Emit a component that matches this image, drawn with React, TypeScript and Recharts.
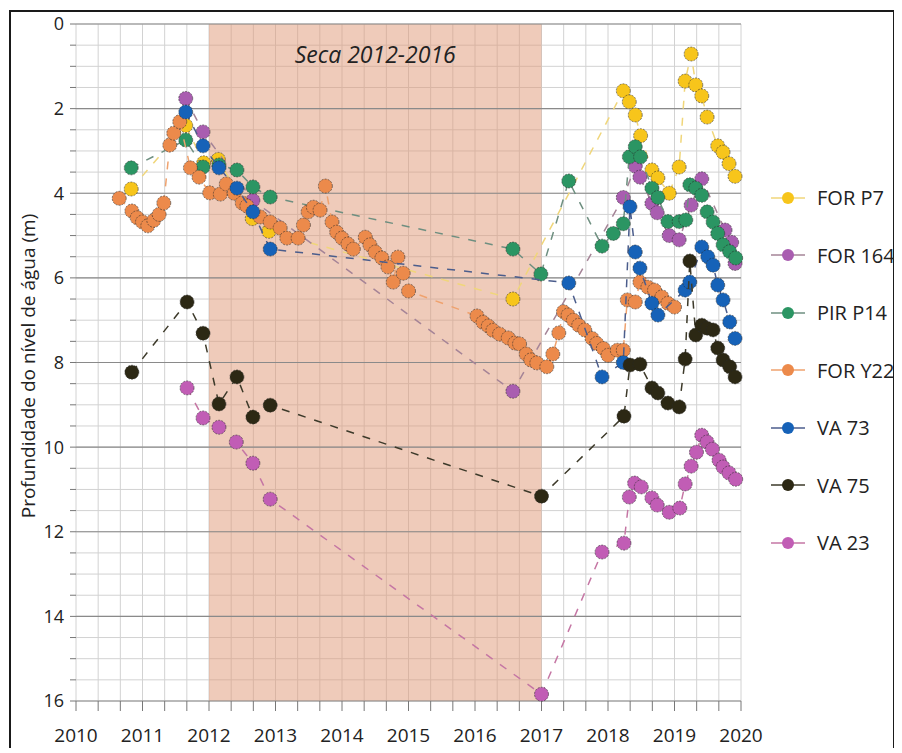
import {
  ScatterChart,
  Scatter,
  XAxis,
  YAxis,
  CartesianGrid,
  ReferenceArea,
  ReferenceLine,
} from "recharts";

// [ano, profundidade (m)]
const forP7 = [
  [2010.83, 3.9], [2011.65, 2.4], [2011.92, 3.28], [2012.14, 3.2], [2012.65, 4.6],
  [2012.9, 4.9], [2016.57, 6.5], [2018.23, 1.58], [2018.32, 1.84], [2018.41, 2.15],
  [2018.49, 2.64], [2018.66, 3.45], [2018.75, 3.64], [2018.92, 4.0], [2019.07, 3.38],
  [2019.16, 1.35], [2019.25, 0.71], [2019.32, 1.44], [2019.41, 1.7], [2019.49, 2.2],
  [2019.65, 2.88], [2019.73, 3.03], [2019.82, 3.3], [2019.91, 3.6],
];

const for164 = [
  [2011.65, 1.76], [2011.91, 2.55], [2012.66, 4.17], [2016.57, 8.68], [2018.23, 4.1],
  [2018.41, 3.36], [2018.48, 3.62], [2018.66, 4.24], [2018.74, 4.46], [2018.92, 5.0],
  [2019.07, 5.1], [2019.25, 4.28], [2019.41, 3.66], [2019.76, 4.87], [2019.86, 5.16],
  [2019.91, 5.66],
];

const pirP14 = [
  [2010.83, 3.4], [2011.65, 2.74], [2011.91, 3.38], [2012.15, 3.33], [2012.42, 3.45],
  [2012.66, 3.85], [2012.92, 4.09], [2016.57, 5.32], [2016.99, 5.91], [2017.41, 3.71],
  [2017.91, 5.25], [2018.08, 4.95], [2018.23, 4.72], [2018.32, 3.14], [2018.41, 2.9],
  [2018.49, 3.14], [2018.66, 3.88], [2018.75, 4.1], [2018.9, 4.67], [2019.07, 4.67],
  [2019.17, 4.63], [2019.23, 3.8], [2019.32, 3.88], [2019.41, 4.05], [2019.49, 4.44],
  [2019.58, 4.68], [2019.65, 4.95], [2019.73, 5.22], [2019.83, 5.38], [2019.92, 5.53],
];

const forY22 = [
  [2010.65, 4.12], [2010.84, 4.42], [2010.92, 4.58], [2011.0, 4.68], [2011.08, 4.77],
  [2011.17, 4.64], [2011.25, 4.5], [2011.32, 4.23], [2011.41, 2.86], [2011.47, 2.58],
  [2011.56, 2.31], [2011.72, 3.4], [2011.85, 3.62], [2012.01, 3.99], [2012.17, 4.02],
  [2012.26, 3.78], [2012.38, 4.0], [2012.5, 4.23], [2012.57, 4.3], [2012.77, 4.56],
  [2012.92, 4.68], [2013.07, 4.82], [2013.17, 5.06], [2013.34, 5.06], [2013.42, 4.75],
  [2013.49, 4.44], [2013.57, 4.33], [2013.67, 4.4], [2013.75, 3.83], [2013.85, 4.68],
  [2013.92, 4.92], [2014.0, 5.06], [2014.09, 5.2], [2014.17, 5.32], [2014.35, 5.04],
  [2014.42, 5.22], [2014.5, 5.39], [2014.6, 5.53], [2014.69, 5.74], [2014.77, 6.1],
  [2014.84, 5.51], [2014.92, 5.89], [2015.0, 6.31], [2016.03, 6.9], [2016.12, 7.05],
  [2016.2, 7.14], [2016.27, 7.24], [2016.37, 7.33], [2016.5, 7.42], [2016.6, 7.54],
  [2016.67, 7.56], [2016.77, 7.8], [2016.84, 7.94], [2016.93, 8.01], [2017.08, 8.1],
  [2017.17, 7.8], [2017.26, 7.3], [2017.33, 6.8], [2017.4, 6.88], [2017.48, 7.0],
  [2017.56, 7.12], [2017.65, 7.23], [2017.76, 7.43], [2017.83, 7.55], [2017.93, 7.67],
  [2018.0, 7.83], [2018.14, 7.71], [2018.23, 7.71], [2018.29, 6.52], [2018.41, 6.57],
  [2018.48, 6.1], [2018.6, 6.22], [2018.7, 6.29], [2018.81, 6.45], [2018.9, 6.6],
  [2019.0, 6.69],
];

const va73 = [
  [2011.65, 2.08], [2011.91, 2.88], [2012.15, 3.4], [2012.42, 3.88], [2012.66, 4.44],
  [2012.92, 5.32], [2017.41, 6.12], [2017.91, 8.34], [2018.23, 8.0], [2018.33, 4.32],
  [2018.41, 5.39], [2018.48, 5.77], [2018.66, 6.6], [2018.75, 6.88], [2019.16, 6.29],
  [2019.23, 6.1], [2019.41, 5.27], [2019.5, 5.5], [2019.58, 5.7], [2019.65, 6.17],
  [2019.73, 6.52], [2019.83, 7.04], [2019.91, 7.43],
];

const va75 = [
  [2010.84, 8.23], [2011.67, 6.57], [2011.91, 7.31], [2012.15, 8.98], [2012.42, 8.34],
  [2012.66, 9.29], [2012.92, 9.01], [2017.0, 11.16], [2018.24, 9.27], [2018.33, 8.06],
  [2018.48, 8.04], [2018.66, 8.6], [2018.75, 8.72], [2018.9, 8.96], [2019.07, 9.05],
  [2019.16, 7.92], [2019.23, 5.6], [2019.32, 7.35], [2019.41, 7.12], [2019.49, 7.19],
  [2019.58, 7.23], [2019.65, 7.66], [2019.73, 7.94], [2019.83, 8.1], [2019.91, 8.34],
];

const va23 = [
  [2011.67, 8.6], [2011.91, 9.31], [2012.15, 9.53], [2012.41, 9.88], [2012.66, 10.38],
  [2012.92, 11.23], [2017.0, 15.84], [2017.91, 12.48], [2018.24, 12.27], [2018.32, 11.18],
  [2018.4, 10.85], [2018.5, 10.94], [2018.66, 11.2], [2018.74, 11.37], [2018.92, 11.54],
  [2019.08, 11.44], [2019.16, 10.87], [2019.25, 10.45], [2019.33, 10.12], [2019.41, 9.72],
  [2019.49, 9.88], [2019.57, 10.05], [2019.67, 10.31], [2019.73, 10.47], [2019.82, 10.61],
  [2019.92, 10.76],
];

const series = [
  { name: "FOR P7", points: forP7, fill: "#F7C51B", line: "#F0D67A" },
  { name: "FOR 164", points: for164, fill: "#A95DB0", line: "#A58497" },
  { name: "PIR P14", points: pirP14, fill: "#2B9563", line: "#6E8F80" },
  { name: "FOR Y22", points: forY22, fill: "#EC8A4B", line: "#EFA26E" },
  { name: "VA 73", points: va73, fill: "#1662B8", line: "#4B5D8C" },
  { name: "VA 75", points: va75, fill: "#2C2814", line: "#3D3A2A" },
  { name: "VA 23", points: va23, fill: "#C15DB5", line: "#C576A4" },
];

const xTicks = Array.from({ length: 31 }, (_, i) => 2010 + i / 3);
const yTicks = Array.from({ length: 33 }, (_, i) => i * 0.5);
const yMajor = [0, 2, 4, 6, 8, 10, 12, 14, 16];

const FONT = "'Open Sans', sans-serif";

function Dot(props: any) {
  const { cx, cy, fill } = props;
  if (cx == null || cy == null) return null;
  return (
    <circle
      cx={cx}
      cy={cy}
      r={7}
      fill={fill}
      stroke="#2a2a2a"
      strokeOpacity={0.7}
      strokeWidth={0.8}
      strokeDasharray="2 1.2"
    />
  );
}

function YTitle() {
  return (
    <text
      x={17}
      y={354}
      transform="rotate(-90 17 354)"
      textAnchor="middle"
      dominantBaseline="central"
      fontSize={19}
      fill="#222"
    >
      Profundidade do nível de água (m)
    </text>
  );
}

function LegendBox() {
  return (
    <div style={{ position: "absolute", left: 758, top: 157, fontFamily: FONT }}>
      {series.map((s) => (
        <div key={s.name} style={{ height: 57.5, display: "flex", alignItems: "center" }}>
          <svg width={38} height={16}>
            <line x1={2} x2={36} y1={8} y2={8} stroke={s.line} strokeWidth={1.5} />
            <circle cx={19} cy={8} r={6} fill={s.fill} />
          </svg>
          <span style={{ marginLeft: 10, fontSize: 20, color: "#222", whiteSpace: "nowrap" }}>
            {s.name}
          </span>
        </div>
      ))}
    </div>
  );
}

export default function App() {
  return (
    <div
      style={{
        position: "relative",
        left: 1,
        top: 2,
        width: 882,
        height: 736,
        border: "2px solid #1a1a1a",
        background: "#fff",
      }}
    >
      <ScatterChart
        width={882}
        height={736}
        margin={{ top: 12, right: 152, bottom: 3, left: 0 }}
        style={{ fontFamily: FONT, overflow: "visible" }}
      >
        <CartesianGrid stroke="#d2d2d2" strokeWidth={1} />
        <XAxis
          type="number"
          dataKey="x"
          domain={[2010, 2020]}
          ticks={xTicks}
          interval={0}
          height={44}
          axisLine={false}
          tickLine={{ stroke: "#777" }}
          tickSize={10}
          tickMargin={18}
          tick={{ fontSize: 19, fill: "#222" }}
          tickFormatter={(v: number) =>
            Math.abs(v - Math.round(v)) < 1e-6 ? String(Math.round(v)) : ""
          }
        />
        <YAxis
          type="number"
          dataKey="y"
          reversed
          domain={[0, 16]}
          ticks={yTicks}
          interval={0}
          width={65}
          axisLine={false}
          tickLine={{ stroke: "#777" }}
          tickSize={6}
          tickMargin={6}
          tick={{ fontSize: 18, fill: "#222" }}
          tickFormatter={(v: number) => (v % 2 === 0 ? String(v) : "")}
          label={{ content: () => <YTitle /> }}
        />
        <ReferenceArea
          x1={2012}
          x2={2017}
          y1={0}
          y2={16}
          fill="#DF9775"
          fillOpacity={0.5}
          stroke="none"
          label={{
            value: "Seca 2012-2016",
            position: "insideTop",
            offset: 23,
            style: { fontSize: 23, fontStyle: "italic", fill: "#222" },
          }}
        />
        {yMajor.map((v) => (
          <ReferenceLine key={v} y={v} stroke="#8a8a8a" strokeWidth={1.2} />
        ))}
        {series.map((s) => (
          <Scatter
            key={s.name}
            name={s.name}
            data={s.points.map(([x, y]) => ({ x, y }))}
            fill={s.fill}
            line={{ stroke: s.line, strokeWidth: 1.5, strokeDasharray: "8 9" }}
            lineType="joint"
            shape={<Dot fill={s.fill} />}
            isAnimationActive={false}
          />
        ))}
      </ScatterChart>
      <LegendBox />
    </div>
  );
}
